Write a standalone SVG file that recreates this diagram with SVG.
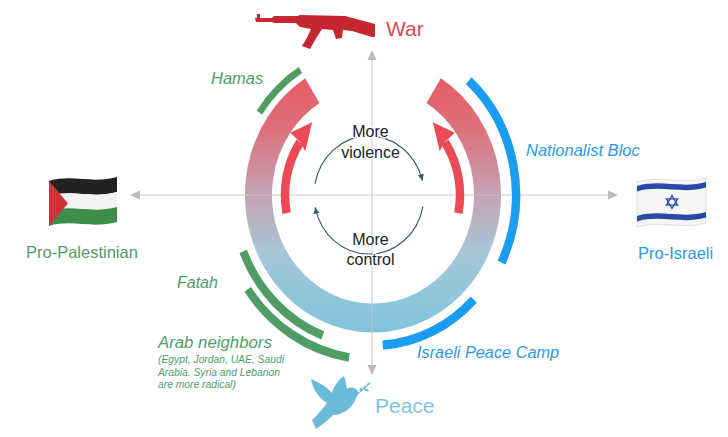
<svg xmlns="http://www.w3.org/2000/svg" width="728" height="437" viewBox="0 0 728 437">
<style>
text{font-family:"Liberation Sans",Arial,sans-serif}
.lbl{font-size:16.5px}
.it{font-style:italic}
.g{fill:#4f9d6b}
.b{fill:#2b9ae0}
.ctr{font-size:16px;fill:#222;text-anchor:middle;stroke:#fff;stroke-width:3px;paint-order:stroke;stroke-linejoin:round}
.axis{stroke:#c4c4c4;stroke-width:1.1;fill:none;opacity:0.85}
.ahead{fill:#bcbcbc}
.garc{fill:none;stroke:#4f9d64;stroke-linecap:butt}
.barc{fill:none;stroke:#1a9cf0;stroke-linecap:butt}
.red{fill:none;stroke:#ec4b56;stroke-width:8.5}
.redh{fill:#ec4b56}
.cyc{fill:none;stroke:#2e5a6b;stroke-width:1.1}
</style>
<defs>
<linearGradient id="ringGrad" gradientUnits="userSpaceOnUse" x1="0" y1="-130" x2="0" y2="130">
<stop offset="0" stop-color="#ea5560"/>
<stop offset="0.25" stop-color="#de6e78"/>
<stop offset="0.5" stop-color="#c4a3b4"/>
<stop offset="0.7" stop-color="#a8c6d6"/>
<stop offset="0.85" stop-color="#91c6db"/>
<stop offset="1" stop-color="#80c3dc"/>
</linearGradient>
<marker id="cycHead" markerUnits="userSpaceOnUse" markerWidth="7" markerHeight="7" refX="6" refY="3" orient="auto">
<path d="M0,0 L6,3 L0,6 Z" fill="#2e5a6b"/>
</marker>
</defs>

<g id="ring" transform="translate(373,195) scale(1,1.075)">
<path d="M60.67,-97.10 A114.5,114.5 0 1 1 -60.67,-97.10" fill="none" stroke="url(#ringGrad)" stroke-width="27"/>
</g>

<g id="connectors">
<line class="axis" x1="138" y1="195" x2="610" y2="195"/>
<polygon class="ahead" points="130,195 140,190.5 140,199.5"/>
<polygon class="ahead" points="618,195 608,190.5 608,199.5"/>
<line class="axis" x1="372" y1="58" x2="372" y2="367"/>
<polygon class="ahead" points="372,50 367.5,60 376.5,60"/>
<polygon class="ahead" points="372,375 367.5,365 376.5,365"/>
</g>

<g id="faction-arcs" transform="translate(373,195) scale(1,1.075)">
<path id="hamas-arc" class="garc" stroke-width="6.5" d="M-113.6,-76.6 A137,137 0 0 1 -72.6,-116.2"/>
<path id="nationalist-arc" class="barc" stroke-width="8.5" d="M95.7,-106.3 A143,143 0 0 1 128.5,62.7"/>
<path id="fatah-arc" class="garc" stroke-width="8" d="M-50.2,130.7 A140,140 0 0 1 -129.8,52.4"/>
<path id="arab-arc" class="garc" stroke-width="8" d="M-23.9,151.1 A153,153 0 0 1 -125.3,87.8"/>
<path id="peacecamp-arc" class="barc" stroke-width="8.5" d="M100.7,97.3 A140,140 0 0 1 9.8,139.7"/>
</g>

<g id="red-arrow-left" transform="translate(373,195) scale(1,1.075)">
<path class="red" d="M-86.38,16.79 A88,88 0 0 1 -72.95,-49.21"/>
<polygon class="redh" points="-67.72,-40.69 -60.89,-67.62 -82.74,-57.93 -72.95,-49.21"/>
</g>
<g id="red-arrow-right" transform="translate(372,195) scale(-1,1.075)">
<path class="red" d="M-86.38,16.79 A88,88 0 0 1 -72.95,-49.21"/>
<polygon class="redh" points="-67.72,-40.69 -60.89,-67.62 -82.74,-57.93 -72.95,-49.21"/>
</g>

<g id="cycle" transform="translate(369,195) scale(1,1.075)">
<path class="cyc" d="M-53.99,-10.49 A55,55 0 0 1 53.37,-13.31" marker-end="url(#cycHead)"/>
<path class="cyc" d="M53.99,10.49 A55,55 0 0 1 -53.80,11.43" marker-end="url(#cycHead)"/>
</g>

<g id="center-labels">
<text class="ctr" x="370.5" y="137">More</text>
<text class="ctr" x="370.5" y="158">violence</text>
<text class="ctr" x="370.5" y="245">More</text>
<text class="ctr" x="370.5" y="265">control</text>
</g>

<g id="war">
<path fill="#c6262f" d="M255,18 L257,18 L257,14 L260,14 L260,18 L272,18 L274,16 L298,16 L300,15 L345,16 L375,24 L375,37 L372,37 L352,31 L343,30 L342,38 L336,39 L333,30 L322,29 Q316,38 310,49 L302,46 Q308,37 311,29 L300,27 L296,23 L274,23 L272,22 L256,22 Z"/>
<text x="386" y="36" font-size="21" fill="#d84a53">War</text>
</g>

<g id="peace">
<path fill="#6bbad9" d="M359,393 C357,388 351,386 347,389 C346,385 346,381 344,376 C338,380 334,386 332,393 C326,386 318,382 311,379 C313,390 319,398 327,403 C323,409 318,414 312,420 L316,429 C322,425 328,420 333,415 C344,415 353,407 356,398 Z"/>
<path d="M357,394 Q363,391 369,384" fill="none" stroke="#6bbad9" stroke-width="1"/>
<ellipse cx="361" cy="389.5" rx="2.4" ry="1.1" fill="#6bbad9" transform="rotate(-60 361 389.5)"/>
<ellipse cx="364.5" cy="387.5" rx="2.4" ry="1.1" fill="#6bbad9" transform="rotate(-60 364.5 387.5)"/>
<ellipse cx="366.5" cy="390" rx="2.2" ry="1" fill="#6bbad9" transform="rotate(20 366.5 390)"/>
<ellipse cx="368.5" cy="384" rx="2.2" ry="1" fill="#6bbad9" transform="rotate(-30 368.5 384)"/>
<text x="375" y="413" font-size="21" fill="#7fc4dd">Peace</text>
</g>

<g id="pro-palestinian">
<path fill="#222" d="M49,181 C72,174 92,184 117,177 L117,192 C92,199 72,189 49,196 Z"/>
<path fill="#f3f3f3" d="M49,196 C72,189 92,199 117,192 L117,207 C92,214 72,204 49,211 Z"/>
<path fill="#3e8e4a" d="M49,211 C72,204 92,214 117,207 L117,222 C92,229 72,219 49,226 Z"/>
<path fill="#d1323a" d="M49,181 L68,203.5 L49,226 Z"/>
<text class="lbl g" x="26" y="258">Pro-Palestinian</text>
</g>

<g id="pro-israeli">
<path fill="#f6f6f6" stroke="#cfcfcf" stroke-width="0.6" d="M637,182 C660,175 683,185 706,178 L706,223 C683,230 660,220 637,227 Z"/>
<path fill="#2a48a6" d="M637,186 C660,179 683,189 706,182 L706,187.5 C683,194.5 660,184.5 637,191.5 Z"/>
<path fill="#2a48a6" d="M637,216 C660,209 683,219 706,212 L706,217.5 C683,224.5 660,214.5 637,221.5 Z"/>
<polygon points="672,195.5 677.6,205.2 666.4,205.2" fill="none" stroke="#2a48a6" stroke-width="1.3"/>
<polygon points="672,208.5 677.6,198.8 666.4,198.8" fill="none" stroke="#2a48a6" stroke-width="1.3"/>
<text class="lbl b" x="638" y="259">Pro-Israeli</text>
</g>

<g id="hamas"><text class="lbl it g" x="211" y="84">Hamas</text></g>
<g id="nationalist-bloc"><text class="lbl it b" x="526" y="156">Nationalist Bloc</text></g>
<g id="fatah"><text class="it g" x="177" y="288" font-size="16">Fatah</text></g>
<g id="arab-neighbors">
<text class="it g" x="158" y="348" font-size="16.8">Arab neighbors</text>
<text class="it g" x="158" y="363" font-size="10.3">(Egypt, Jordan, UAE, Saudi</text>
<text class="it g" x="158" y="376" font-size="10.3">Arabia. Syria and Lebanon</text>
<text class="it g" x="158" y="388" font-size="10.3">are more radical)</text>
</g>
<g id="israeli-peace-camp"><text class="it b" x="417" y="358" font-size="16.3">Israeli Peace Camp</text></g>
</svg>
